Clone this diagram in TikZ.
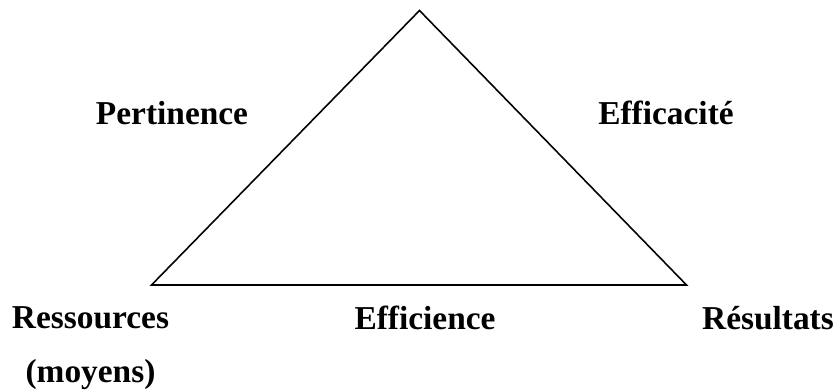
\documentclass[tikz,border=0pt]{standalone}
\usepackage{fontspec}
\setmainfont{Liberation Serif}
\usepackage{tikz}

\begin{document}
\begin{tikzpicture}[lbl/.style={font=\fontsize{19}{23}\selectfont\bfseries, inner sep=0pt}]
    \useasboundingbox (0,0) rectangle (16.72,-7.82);
    \coordinate (top) at (8.39,-0.21);
    \coordinate (left) at (3.03,-5.7);
    \coordinate (right) at (13.73,-5.7);
    \draw[line width=0.9pt] (left) -- (top) -- (right) -- cycle;

    \node[lbl] (pert) at (3.44,-2.26) {Pertinence};
    \node[lbl] (effic) at (13.32,-2.26) {Efficacité};
    \node[lbl] (res) at (1.81,-6.36) {Ressources};
    \node[lbl] (moy) at (1.81,-7.5) {(moyens)};
    \node[lbl] (effi) at (8.5,-6.36) {Efficience};
    \node[lbl] (resu) at (15.36,-6.36) {Résultats};
\end{tikzpicture}
\end{document}
